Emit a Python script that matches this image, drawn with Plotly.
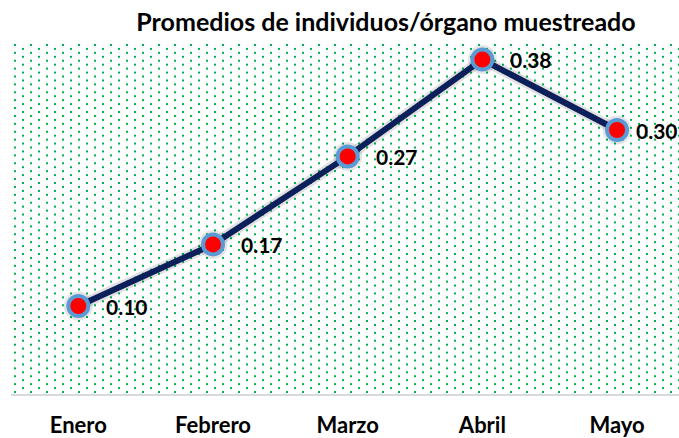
import base64
import plotly.graph_objects as go

# ---- data ----
months = ["Enero", "Febrero", "Marzo", "Abril", "Mayo"]
promedios = [0.10, 0.17, 0.27, 0.38, 0.30]
label_texts = ["0.10", "0.17", "0.27", "0.38", "0.30"]
title_text = "Promedios de individuos/órgano muestreado"

W, H = 679, 438
ML, MR, MT, MB = 11, 0, 42, 39
PW, PH = W - ML - MR, H - MT - MB

FONT = "Lato"

# dotted (Excel-like "5%" pattern) background for the plot area
svg = (
    f'<svg xmlns="http://www.w3.org/2000/svg" width="{PW}" height="{PH}" viewBox="0 0 {PW} {PH}">'
    '<defs><pattern id="p" x="0" y="0" width="16" height="8" patternUnits="userSpaceOnUse">'
    '<rect x="3" y="2" width="2" height="2" fill="#00B050"/>'
    '<rect x="11" y="6" width="2" height="2" fill="#00B050"/>'
    '</pattern></defs>'
    f'<rect x="0" y="0" width="{PW}" height="{PH}" fill="url(#p)"/></svg>'
)
svg_uri = "data:image/svg+xml;base64," + base64.b64encode(svg.encode()).decode()

fig = go.Figure()

# soft shadow
fig.add_trace(go.Scatter(
    x=months, y=promedios, mode="lines+markers",
    line=dict(color="rgba(0,0,0,0.12)", width=11),
    marker=dict(size=29, color="rgba(0,0,0,0.10)", line=dict(width=0)),
    hoverinfo="skip", showlegend=False,
))

# main line
fig.add_trace(go.Scatter(
    x=months, y=promedios, mode="lines+markers",
    line=dict(color="#0B1F5B", width=6),
    marker=dict(size=20, color="#FF0000", line=dict(color="#5B9BD5", width=4)),
    showlegend=False,
))

annotations = []
for i, (m, v, t) in enumerate(zip(months, promedios, label_texts)):
    shift = 17 if i == len(months) - 1 else 26
    annotations.append(dict(
        x=m, y=v, xref="x", yref="y", text=f"<b>{t}</b>", showarrow=False,
        xanchor="left", yanchor="middle", xshift=shift,
        font=dict(family=FONT, size=21, color="#000000"),
    ))

fig.update_layout(
    width=W, height=H,
    margin=dict(l=ML, r=MR, t=MT, b=MB, pad=0),
    paper_bgcolor="white",
    plot_bgcolor="rgba(0,0,0,0)",
    title=dict(text=f"<b>{title_text}</b>", x=386 / W, xanchor="center",
               y=1 - 22 / H, yanchor="middle", xref="container",
               font=dict(family=FONT, size=25, color="#000000")),
    xaxis=dict(
        type="category", range=[-0.5, 4.46], showgrid=False, zeroline=False,
        showline=True, linecolor="#D9D9D9", linewidth=2,
        ticks="outside", ticklen=11, tickcolor="rgba(0,0,0,0)",
        tickfont=dict(family=FONT, size=22, color="#000000"),
        tickprefix="<b>", ticksuffix="</b>", fixedrange=True,
    ),
    yaxis=dict(range=[0, 0.4], visible=False, showgrid=False, zeroline=False),
    images=[dict(source=svg_uri, xref="paper", yref="paper", x=0, y=1,
                 sizex=1, sizey=1, xanchor="left", yanchor="top",
                 sizing="stretch", layer="below")],
    annotations=annotations,
)

fig.write_html("out.html", config={"displayModeBar": False},
               post_script="document.body.style.margin='0';document.body.style.padding='0';")
